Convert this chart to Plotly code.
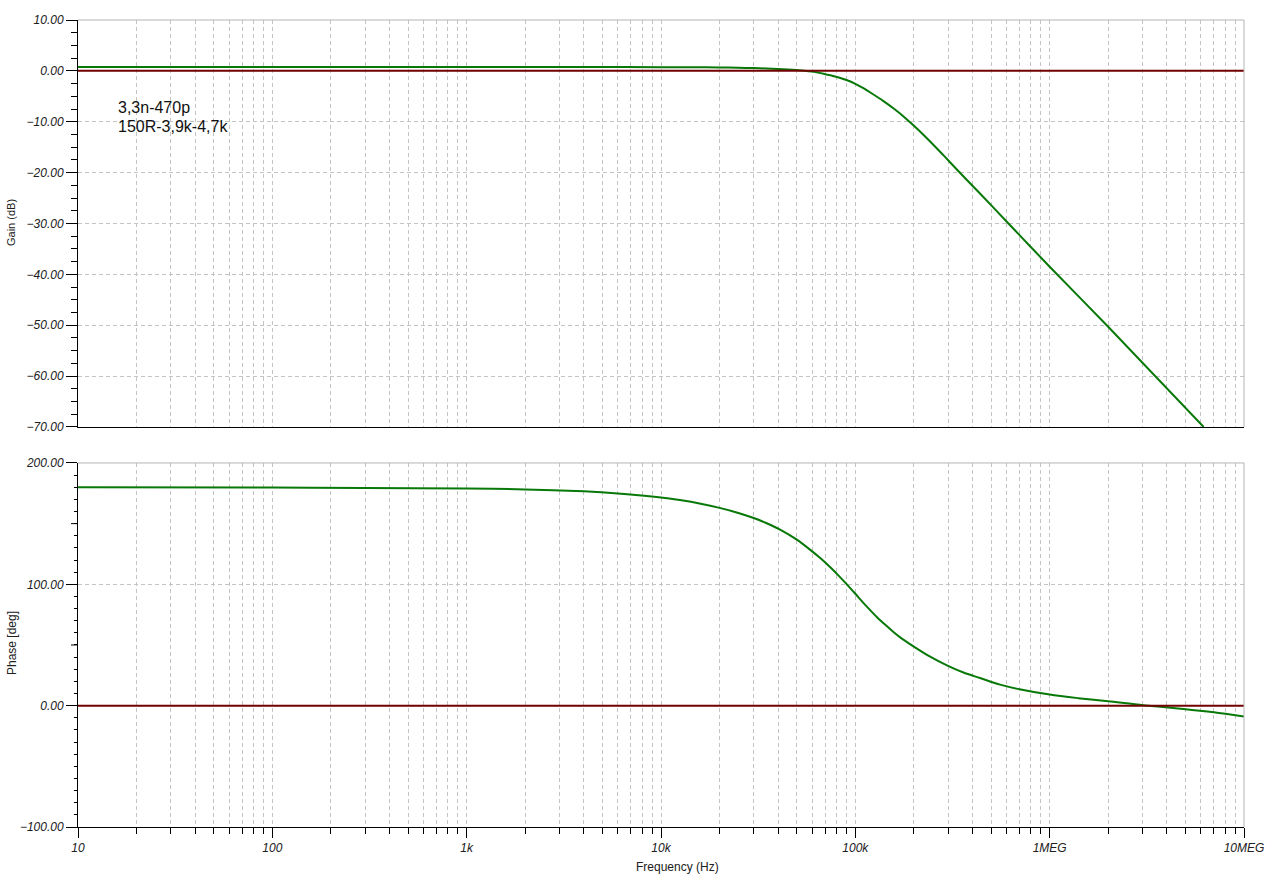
import plotly.graph_objects as go

# ---------------- data ----------------
freq_gain = [10, 1e3, 5e3, 1e4, 1.5e4, 2e4, 2.5e4, 3e4, 3.5e4, 4e4, 4.5e4, 5e4, 5.5e4, 6e4,
             6.5e4, 7e4, 7.6e4, 8.3e4, 9e4, 1e5, 1.1e5, 1.2e5, 1.39e5, 1.6e5, 1.8e5, 1.99e5,
             2.3e5, 2.73e5, 3.07e5, 3.74e5, 4.38e5, 6e5, 1e6, 2e6, 6.2e6]
gain_db = [0.75, 0.75, 0.74, 0.73, 0.71, 0.68, 0.62, 0.54, 0.46, 0.37, 0.27, 0.15, 0.03,
           -0.15, -0.38, -0.65, -0.95, -1.35, -1.8, -2.55, -3.4, -4.3, -5.9, -7.6, -9.2,
           -10.7, -13.0, -15.9, -17.95, -21.4, -24.1, -29.6, -38.5, -50.3, -70.0]

freq_phase = [10, 100, 300, 1e3, 2e3, 4e3, 6e3, 1e4, 1.25e4, 1.6e4, 2e4, 2.5e4, 3e4, 3.5e4,
              4.1e4, 5e4, 5.8e4, 6.6e4, 7.5e4, 8.2e4, 9e4, 1e5, 1.14e5, 1.3e5, 1.45e5,
              1.57e5, 1.75e5, 1.99e5, 2.4e5, 2.98e5, 3.6e5, 4.38e5, 5.56e5, 7e5, 1e6,
              1.4e6, 2e6, 3.03e6, 4.87e6, 7e6, 1e7]
phase_deg = [179.95, 179.8, 179.4, 179.0, 178.2, 176.6, 174.9, 171.6, 169.4, 166.4, 163.0,
             158.8, 154.6, 150.3, 145.1, 136.8, 129.0, 121.6, 113.4, 107.2, 100.3, 92.2,
             82.0, 72.5, 65.6, 60.7, 54.8, 48.9, 40.8, 33.0, 27.3, 22.8, 17.3, 13.5, 9.1,
             6.2, 3.6, 0.3, -2.7, -5.5, -9.0]

ref_x = [10, 1e7]
ref_y = [0, 0]

x_tick_vals = [10, 100, 1e3, 1e4, 1e5, 1e6, 1e7]
x_tick_text = ["10", "100", "1k", "10k", "100k", "1MEG", "10MEG"]
x_minor_vals = [m * d for d in [10, 100, 1e3, 1e4, 1e5, 1e6] for m in range(2, 10)]

note_lines = ["3,3n-470p", "150R-3,9k-4,7k"]

# ---------------- styling ----------------
GREEN = "#087808"
RED = "#720000"
GRID = "#c4c4c4"
DASH = "4px,3px"
FONT = "Liberation Sans, Arial, sans-serif"
tickfont = dict(family=FONT, size=12, color="#202020", style="italic")

fig = go.Figure()
fig.add_trace(go.Scatter(x=freq_gain, y=gain_db, mode="lines", xaxis="x", yaxis="y",
                         line=dict(color=GREEN, width=2, shape="spline", smoothing=0.8),
                         showlegend=False))
fig.add_trace(go.Scatter(x=ref_x, y=ref_y, mode="lines", xaxis="x", yaxis="y",
                         line=dict(color=RED, width=2), showlegend=False))
fig.add_trace(go.Scatter(x=freq_phase, y=phase_deg, mode="lines", xaxis="x2", yaxis="y2",
                         line=dict(color=GREEN, width=2, shape="spline", smoothing=0.8),
                         showlegend=False))
fig.add_trace(go.Scatter(x=ref_x, y=ref_y, mode="lines", xaxis="x2", yaxis="y2",
                         line=dict(color=RED, width=2), showlegend=False))

common_x = dict(type="log", range=[1, 7], tickmode="array", tickvals=x_tick_vals,
                showgrid=True, gridcolor=GRID, griddash=DASH, gridwidth=1,
                showline=True, linecolor="black", linewidth=1, zeroline=False,
                automargin=False)

fig.update_layout(
    width=1278, height=886,
    margin=dict(l=78, r=34, t=20, b=59),
    paper_bgcolor="white", plot_bgcolor="white",
    xaxis=dict(**common_x, anchor="y", domain=[0, 1], showticklabels=False, ticks="",
               minor=dict(tickmode="array", tickvals=x_minor_vals, showgrid=True,
                          gridcolor=GRID, griddash=DASH, ticks="")),
    yaxis=dict(domain=[0.4957, 1], anchor="x", range=[-70, 10], tickmode="linear",
               tick0=0, dtick=10, tickformat=".2f", ticks="outside", ticklen=11,
               tickcolor="black", tickfont=tickfont, showline=True, linecolor="black",
               linewidth=1, showgrid=True, gridcolor=GRID, griddash=DASH, zeroline=False,
               automargin=False,
               minor=dict(tick0=0, dtick=2.5, ticks="outside", ticklen=6,
                          tickcolor="black", showgrid=False)),
    xaxis2=dict(**common_x, anchor="y2", domain=[0, 1], ticktext=x_tick_text,
                ticks="outside", ticklen=10, tickcolor="black", tickfont=tickfont,
                minor=dict(tickmode="array", tickvals=x_minor_vals, showgrid=True,
                           gridcolor=GRID, griddash=DASH, ticks="outside", ticklen=6,
                           tickcolor="black")),
    yaxis2=dict(domain=[0, 0.4511], anchor="x2", range=[-100, 200], tickmode="linear",
                tick0=0, dtick=100, tickformat=".2f", ticks="outside", ticklen=11,
                tickcolor="black", tickfont=tickfont, showline=True, linecolor="black",
                linewidth=1, showgrid=True, gridcolor=GRID, griddash=DASH, zeroline=False,
                automargin=False,
                minor=dict(tick0=0, dtick=10, ticks="outside", ticklen=3,
                           tickcolor="black", showgrid=False)),
)

# gray top / right borders of both panels
shapes = []
for xr, yr in [("x domain", "y domain"), ("x2 domain", "y2 domain")]:
    shapes.append(dict(type="line", xref=xr, yref=yr, x0=0, x1=1, y0=1, y1=1,
                       line=dict(color="#b4b4b4", width=1)))
    shapes.append(dict(type="line", xref=xr, yref=yr, x0=1, x1=1, y0=0, y1=1,
                       line=dict(color="#b4b4b4", width=1)))
# medium ticks at 50 / 150 deg on the phase axis
for v in [50, 150]:
    py = 0.4511 * (v + 100) / 300
    shapes.append(dict(type="line", xref="paper", yref="paper", x0=-7 / 1166, x1=0,
                       y0=py, y1=py, line=dict(color="black", width=1)))
fig.update_layout(shapes=shapes)

title_font = dict(family=FONT, size=12, color="#202020")
fig.add_annotation(text="Gain (dB)", xref="paper", yref="paper", x=(11 - 78) / 1166,
                   y=(827 - 223) / 807, textangle=-90, showarrow=False,
                   xanchor="center", yanchor="middle",
                   font=dict(family=FONT, size=11, color="#202020"))
fig.add_annotation(text="Phase [deg]", xref="paper", yref="paper", x=(12 - 78) / 1166,
                   y=(827 - 643) / 807, textangle=-90, showarrow=False,
                   xanchor="center", yanchor="middle", font=title_font)
fig.add_annotation(text="Frequency (Hz)", xref="paper", yref="paper", x=(677 - 78) / 1166,
                   y=(827 - 867) / 807, showarrow=False, xanchor="center",
                   yanchor="middle", font=title_font)
for i, line in enumerate(note_lines):
    fig.add_annotation(text=line, xref="paper", yref="paper", x=(116 - 78) / 1166,
                       y=(827 - (107 + 20 * i)) / 807, showarrow=False, xanchor="left",
                       yanchor="middle", font=dict(family=FONT, size=16, color="#101010"))

# remove the default page margin so the figure sits at the window's top-left corner
fig.write_html("out.html", config={"displayModeBar": False},
               post_script="document.body.style.margin='0';")
